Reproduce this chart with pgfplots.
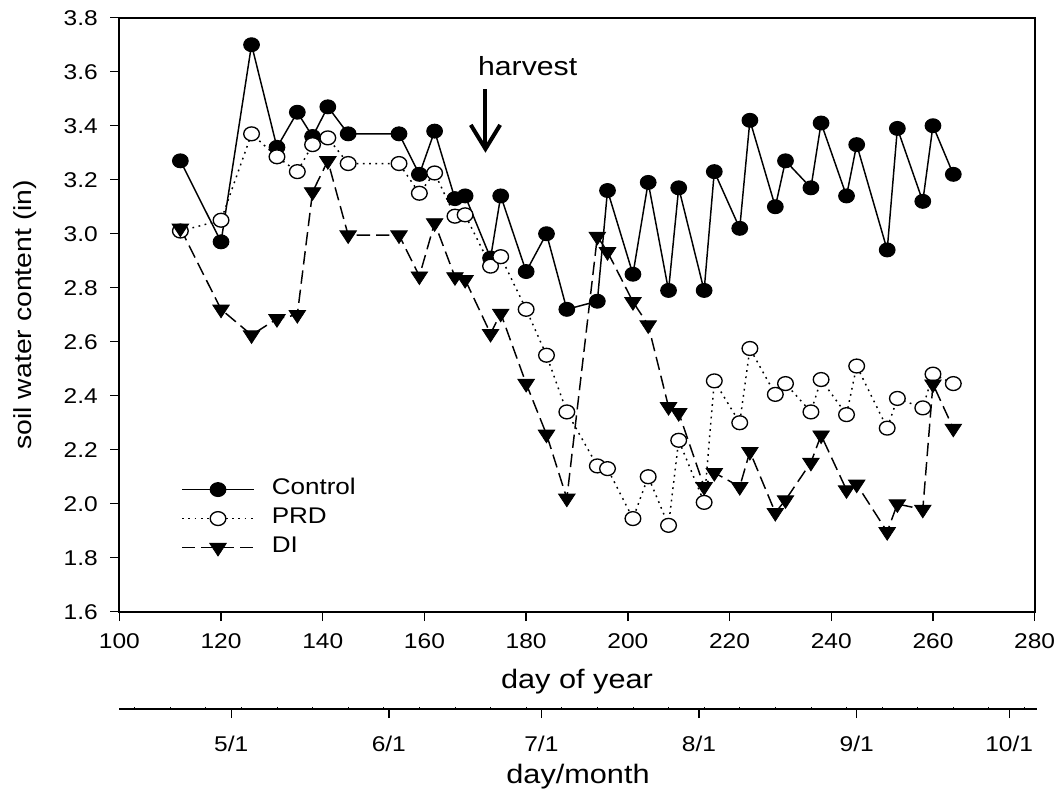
\documentclass[border=0pt]{standalone}
\usepackage{pgfplots}
\pgfplotsset{compat=1.18}
\usetikzlibrary{arrows.meta}
\usepackage{fontspec}
\setmainfont{Liberation Sans}[FakeStretch=1.15]

\newcommand{\fs}[1]{\fontsize{#1}{1.2\dimexpr#1\relax}\selectfont}

% soil water content by treatment (day of year, inches)
\pgfplotstableread{
day  control  prd    di
112  3.27     3.01   3.02
120  2.97     3.05   2.72
126  3.70     3.37   2.625
131  3.32     3.285  2.685
135  3.45     3.23   2.70
138  3.36     3.33   3.155
141  3.47     3.355  3.27
145  3.37     3.26   2.995
155  3.37     3.26   2.995
159  3.22     3.15   2.843
162  3.38     3.225  3.04
166  3.13     3.065  2.84
168  3.14     3.07   2.83
173  2.91     2.88   2.63
175  3.14     2.915  2.705
180  2.86     2.72   2.445
184  3.00     2.55   2.257
188  2.72     2.34   2.02
194  2.75     2.14   2.99
196  3.16     2.13   2.933
201  2.85     1.945  2.748
204  3.19     2.10   2.662
208  2.79     1.92   2.359
210  3.17     2.235  2.337
215  2.79     2.005  2.063
217  3.23     2.455  2.115
222  3.02     2.30   2.063
224  3.42     2.575  2.193
229  3.10     2.405  1.967
231  3.27     2.445  2.014
236  3.17     2.34   2.153
238  3.41     2.46   2.254
243  3.14     2.33   2.051
245  3.33     2.51   2.072
251  2.94     2.28   1.896
253  3.39     2.39   1.999
258  3.12     2.355  1.979
260  3.40     2.48   2.443
264  3.22     2.445  2.279
}\swc

\begin{document}
\begin{tikzpicture}
\begin{axis}[
  scale only axis, width=686.5pt, height=445.5pt,
  at={(0,0)}, anchor=south west,
  xmin=100, xmax=280, ymin=1.6, ymax=3.8,
  xtick={100,120,140,160,180,200,220,240,260,280},
  ytick={1.6,1.8,2.0,2.2,2.4,2.6,2.8,3.0,3.2,3.4,3.6,3.8},
  /pgf/number format/assume math mode=true,
  yticklabel style={/pgf/number format/fixed, /pgf/number format/fixed zerofill, /pgf/number format/precision=1},
  tick pos=left, tick align=outside, major tick length=7pt,
  axis line style={line width=1.5pt},
  tick style={line width=1.1pt, black},
  ticklabel style={font=\fs{16pt}, inner sep=0pt},
  xticklabel style={yshift=-9pt},
  yticklabel style={xshift=-9pt},
  xlabel={day of year},
  ylabel={soil water content (in)},
  xlabel style={at={(axis description cs:0.5,-0.1184)}, anchor=center, font=\fs{20pt}},
  ylabel style={at={(axis description cs:-0.1030,0.5)}, anchor=center, font=\fs{18.5pt}},
  legend cell align=left,
  legend image code/.code={\draw[mark repeat=2,mark phase=2,#1] plot coordinates {(0pt,0pt) (27pt,0pt) (54pt,0pt)};},
  legend style={draw=none, fill=none, inner sep=0pt, row sep=0pt,
    at={(axis description cs:0.0674,0.2305)}, anchor=north west,
    font=\fs{17pt},
    nodes={inner sep=0pt, text height=14.5pt, text depth=7.25pt},
    /tikz/every odd column/.append style={column sep=12.75pt}},
]
\addplot[black, line width=1.1pt, mark=*, mark size=5.2pt,
  mark options={solid, fill=black, xscale=1.13, line width=0.8pt}]
  table[x=day, y=control] {\swc};
\addlegendentry{Control}
\addplot[black, line width=1.1pt, dash pattern=on 1.3pt off 3.4pt, mark=*, mark size=5.2pt,
  mark options={solid, fill=white, xscale=1.13, line width=1pt}]
  table[x=day, y=prd] {\swc};
\addlegendentry{PRD}
\addplot[black, line width=1.1pt, dash pattern=on 10pt off 4.5pt, mark=triangle*, mark size=6.3pt,
  mark options={solid, fill=black, rotate=180, xscale=1.13, line width=0.6pt}]
  table[x=day, y=di] {\swc};
\addlegendentry{DI}

% harvest marker
\draw[line width=3pt, -{Straight Barb[length=18pt,width=22pt]}]
  (axis cs:172,3.536) -- (axis cs:172,3.30);
\node[font=\fs{19.7pt}, inner sep=0pt] at (axis cs:180.3,3.62) {harvest};
\end{axis}

% calendar scale under the day-of-year axis (leap year)
\begin{axis}[
  scale only axis, width=688pt, height=1pt,
  at={(0,-73pt)}, anchor=south west,
  xmin=100, xmax=280.4, ymin=0, ymax=1,
  hide y axis, axis x line*=bottom,
  axis line style={line width=1pt},
  xtick={122,153,183,214,245,275},
  xticklabels={5/1,6/1,7/1,8/1,9/1,10/1},
  tick align=outside, major tick length=6.75pt,
  tick style={line width=1pt, black},
  extra x ticks={103,110,...,278},
  extra x tick labels={},
  extra x tick style={tick align=inside, major tick length=1.5pt, tick style={line width=0.6pt}},
  ticklabel style={font=\fs{16pt}, inner sep=0pt},
  xticklabel style={yshift=-13pt},
  xlabel={day/month},
  xlabel style={at={(axis description cs:0.5,0)}, anchor=center, yshift=-51pt, font=\fs{20pt}},
]
\end{axis}

\pgfresetboundingbox
\path[use as bounding box] (-89.5pt,-135.2pt) rectangle (705.5pt,458.8pt);
\end{tikzpicture}
\end{document}
